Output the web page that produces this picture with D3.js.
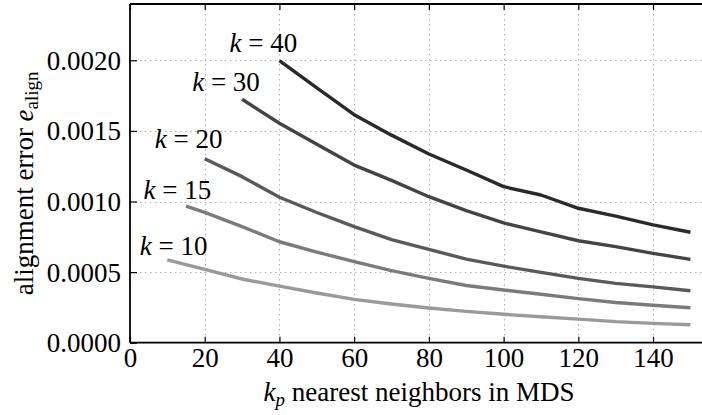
<!DOCTYPE html>
<html>
<head>
<meta charset="utf-8">
<script src="https://cdn.jsdelivr.net/npm/d3@7"></script>
<style>
  html, body { margin: 0; padding: 0; background: #fff; }
  svg { display: block; }
  svg text { font-family: 'Liberation Serif', 'DejaVu Serif', serif !important; fill: #000; }
</style>
</head>
<body>
<svg id="chart" width="702" height="415"></svg>
<script>
// ---- data ----
const seriesK = [10, 15, 20, 30, 40];
const xValues = {
  10: [10, 20, 30, 40, 50, 60, 70, 80, 90, 100, 110, 120, 130, 140, 150],
  15: [15, 20, 30, 40, 50, 60, 70, 80, 90, 100, 110, 120, 130, 140, 150],
  20: [20, 30, 40, 50, 60, 70, 80, 90, 100, 110, 120, 130, 140, 150],
  30: [30, 40, 50, 60, 70, 80, 90, 100, 110, 120, 130, 140, 150],
  40: [40, 50, 60, 70, 80, 90, 100, 110, 120, 130, 140, 150]
};
const errK10 = [0.000586, 0.000520, 0.000451, 0.000401, 0.000352, 0.000307, 0.000274, 0.000246, 0.000222, 0.000201, 0.000184, 0.000167, 0.000149, 0.000137, 0.000127];
const errK15 = [0.000968, 0.000923, 0.000822, 0.000715, 0.000642, 0.000574, 0.000510, 0.000456, 0.000405, 0.000373, 0.000343, 0.000312, 0.000285, 0.000265, 0.000248];
const errK20 = [0.001303, 0.001176, 0.001030, 0.000922, 0.000822, 0.000730, 0.000661, 0.000592, 0.000542, 0.000498, 0.000456, 0.000420, 0.000395, 0.000368];
const errK30 = [0.001724, 0.001554, 0.001405, 0.001258, 0.001150, 0.001034, 0.000935, 0.000848, 0.000785, 0.000722, 0.000680, 0.000633, 0.000590];
const errK40 = [0.001997, 0.001805, 0.001615, 0.001470, 0.001336, 0.001223, 0.001105, 0.001046, 0.000952, 0.000897, 0.000834, 0.000782];
const seriesColors = ["#9a9a9a", "#7b7b7b", "#5a5a5a", "#444444", "#2a2a2a"];
// label anchor points in data units (centre x, baseline y)
const labelX = [11.7, 12.7, 15.7, 25.7, 35.7];
const labelY = [0.000621, 0.001016, 0.001377, 0.001783, 0.002060];
const xTicks = [0, 20, 40, 60, 80, 100, 120, 140];
const yTicks = [0.0000, 0.0005, 0.0010, 0.0015, 0.0020];
const xDomain = [0, 155];
const yDomain = [0, 0.0024];

const errBy = {10: errK10, 15: errK15, 20: errK20, 30: errK30, 40: errK40};

// ---- layout ----
const FONT = "'Liberation Serif', 'DejaVu Serif', serif";
const svg = d3.select("#chart");
const mLeft = 130, mTop = 4, mBottom = 342.7;
const x = d3.scaleLinear().domain(xDomain).range([mLeft, mLeft + 3.736 * xDomain[1]]);
const y = d3.scaleLinear().domain(yDomain).range([mBottom, mBottom - 141.2 * yDomain[1] / 0.001]);
const mRight = x.range()[1];

// grid
const grid = svg.append("g").attr("stroke", "#b0b0b0").attr("stroke-width", 1).attr("stroke-dasharray", "1.5,3.5");
grid.selectAll(".gx").data(xTicks.filter(d => d > 0)).enter().append("line")
  .attr("x1", d => Math.round(x(d)) + 0.5).attr("x2", d => Math.round(x(d)) + 0.5)
  .attr("y1", mTop).attr("y2", mBottom);
grid.selectAll(".gy").data(yTicks.filter(d => d > 0)).enter().append("line")
  .attr("y1", d => Math.round(y(d)) + 0.5).attr("y2", d => Math.round(y(d)) + 0.5)
  .attr("x1", mLeft).attr("x2", mRight);

// lines
const line = d3.line().x(d => x(d[0])).y(d => y(d[1]));
seriesK.forEach((k, i) => {
  const pts = xValues[k].map((xv, j) => [xv, errBy[k][j]]);
  svg.append("path").datum(pts)
    .attr("d", line)
    .attr("fill", "none")
    .attr("stroke", seriesColors[i])
    .attr("stroke-width", 3.4)
    .attr("stroke-linejoin", "round");
});

// axes
const fs = 27;
const xAxis = d3.axisBottom(x).tickValues(xTicks).tickSize(-6).tickPadding(5).tickFormat(d3.format("d"));
const gx = svg.append("g").attr("transform", `translate(0,${mBottom})`).call(xAxis);
const xTop = d3.axisTop(x).tickValues(xTicks).tickSize(-6).tickFormat("");
const gxt = svg.append("g").attr("transform", `translate(0,${mTop})`).call(xTop);
const yAxis = d3.axisLeft(y).tickValues(yTicks).tickSize(-7).tickPadding(9).tickFormat(d => d.toFixed(4));
const gy = svg.append("g").attr("transform", `translate(${mLeft},0)`).call(yAxis);

[gx, gxt, gy].forEach(g => {
  g.attr("font-family", null).attr("font-size", null);
  g.select(".domain").attr("stroke", "#000").attr("stroke-width", 1.8);
  g.selectAll(".tick line").attr("stroke", "#000").attr("stroke-width", 1.2);
  g.selectAll(".tick text").style("font-family", FONT).style("font-size", fs + "px").attr("fill", "#000");
});
gx.selectAll(".tick text").attr("dy", "0.72em");
gy.selectAll(".tick text").attr("dy", "0.33em");
gx.select(".domain").attr("d", `M${mLeft},0H${mRight}`);
gxt.select(".domain").attr("d", `M${mLeft},0H${mRight}`);
gy.select(".domain").attr("d", `M0,${mBottom}V${mTop}`);

// series labels
seriesK.forEach((k, i) => {
  const t = svg.append("text")
    .attr("x", x(labelX[i])).attr("y", y(labelY[i]))
    .attr("text-anchor", "middle").style("font-family", FONT).style("font-size", fs + "px");
  t.append("tspan").attr("font-style", "italic").text("k");
  t.append("tspan").text(" = " + k);
});

// x label
const xl = svg.append("text").attr("x", 419).attr("y", 401).attr("text-anchor", "middle")
  .style("font-family", FONT).style("font-size", fs + "px");
xl.append("tspan").attr("font-style", "italic").text("k");
xl.append("tspan").attr("font-style", "italic").style("font-size", "19px").attr("dy", 5).text("p");
xl.append("tspan").attr("dy", -5).text(" nearest neighbors in MDS");

// y label
const yl = svg.append("text").attr("transform", `translate(33,${(mTop + mBottom) / 2 + 10}) rotate(-90)`)
  .attr("text-anchor", "middle").style("font-family", FONT).style("font-size", fs + "px");
yl.append("tspan").text("alignment error ");
yl.append("tspan").attr("font-style", "italic").text("e");
yl.append("tspan").style("font-size", "19px").attr("dy", 5).text("align");
</script>
</body>
</html>
